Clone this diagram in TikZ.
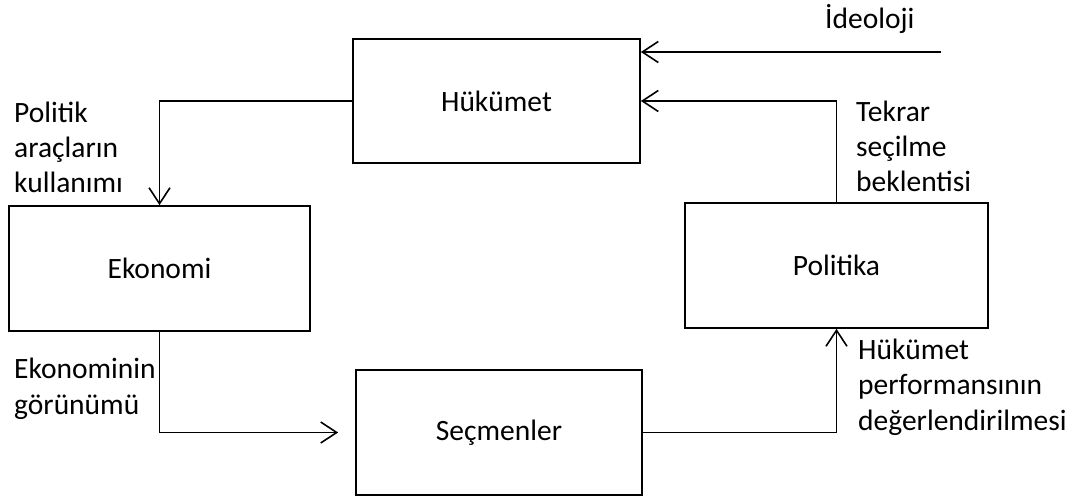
\documentclass[tikz,border=0pt]{standalone}
\usepackage{fontspec}
\setmainfont{Carlito}
\usetikzlibrary{arrows.meta}
\begin{document}
\begin{tikzpicture}[x=1pt,y=-1pt,
  txt/.style={font=\fontsize{29.5}{35.2}\selectfont},
  box/.style={draw,line width=1.7pt,inner sep=0pt,txt},
  lbl/.style={inner sep=0pt,align=left,anchor=base west,txt},
  arr/.style={line width=1.6pt,-{Straight Barb[length=16pt,width=21pt,line width=1.6pt]}}]
\useasboundingbox (0,0) rectangle (1071,497);
\fill[white] (0,0) rectangle (1071,497);
% boxes
\node[box,minimum width=287pt,minimum height=124pt] (huk) at (496.5,101) {Hükümet};
\node[box,minimum width=301pt,minimum height=125pt] (eko) at (159.5,268.5) {Ekonomi};
\node[box,minimum width=303pt,minimum height=125pt] (pol) at (836.5,265.5) {Politika};
\node[box,minimum width=286pt,minimum height=125pt] (sec) at (499,432.5) {Seçmenler};
% free end of the ideology arrow
\coordinate (ideo) at (941,52);
% connectors
\draw[arr] (ideo) -- (huk.east |- ideo);
\draw[arr] (pol.north) |- (huk.east);
\draw[arr] (huk.west) -| (eko.north);
\draw[arr,shorten >=17pt] (eko.south) |- (sec.west);
\draw[arr] (sec.east) -| (pol.south);
% labels (anchor = baseline of the last line)
\node[lbl] (lideo) at (825,29) {İdeoloji};
\node[lbl] (lpol) at (14,193) {Politik\\araçların\\kullanımı};
\node[lbl] (ltek) at (856,192) {Tekrar\\seçilme\\beklentisi};
\node[lbl] (leko) at (14,414) {Ekonominin\\görünümü};
\node[lbl] (lhuk) at (858,430) {Hükümet\\performansının\\değerlendirilmesi};
\end{tikzpicture}
\end{document}
